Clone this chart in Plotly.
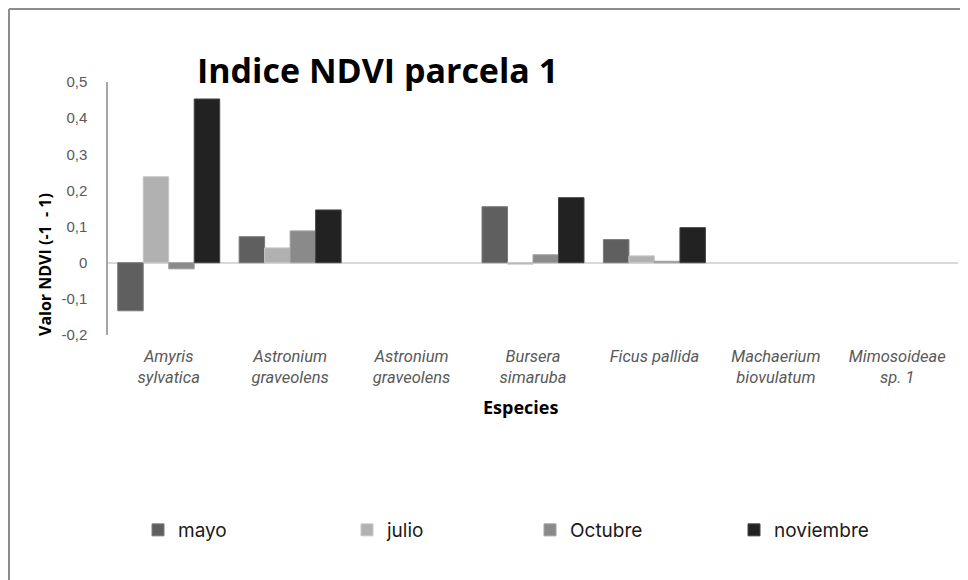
import plotly.graph_objects as go

species = ["Amyris<br>sylvatica", "Astronium<br>graveolens", "Astronium<br>graveolens",
           "Bursera<br>simaruba", "Ficus pallida<br> ", "Machaerium<br>biovulatum", "Mimosoideae<br>sp. 1"]
positions = [0, 1, 2, 3, 4, 5, 6]

mayo = [-0.133, 0.072, None, 0.155, 0.064, None, None]
julio = [0.238, 0.041, None, -0.004, 0.019, None, None]
octubre = [-0.017, 0.088, None, 0.022, 0.004, None, None]
noviembre = [0.453, 0.146, None, 0.180, 0.097, None, None]

series_names = ["mayo", "julio", "Octubre", "noviembre"]
series_values = [mayo, julio, octubre, noviembre]
colors = ["#5f5f5f", "#b1b1b1", "#8a8a8a", "#222222"]
edge_colors = ["#7a7a7a", "#c8c8c8", "#a2a2a2", "#444444"]

y_tick_vals = [-0.2, -0.1, 0, 0.1, 0.2, 0.3, 0.4, 0.5]
y_tick_text = ["-0,2", "-0,1", "0", "0,1", "0,2", "0,3", "0,4", "0,5"]

# page has an 8px body margin; figure sized so it fits the 968x580 window
OFF = 8
W, H = 960, 572
L, R, T, B = 100, 10, 74, 245
pw, ph = W - L - R, H - T - B


def px(x):  # page pixel x -> paper
    return (x - OFF - L) / pw


def py(y):  # page pixel y -> paper
    return (H - B - (y - OFF)) / ph


legend_page_x = [138, 347, 530, 734]
legend_names = ["legend", "legend2", "legend3", "legend4"]

fig = go.Figure()
for i, (name, vals) in enumerate(zip(series_names, series_values)):
    fig.add_trace(go.Bar(
        x=positions, y=vals, name=name,
        marker=dict(color=colors[i], line=dict(color=edge_colors[i], width=1)),
        legend=legend_names[i],
    ))

layout_legends = {}
for i, ln in enumerate(legend_names):
    layout_legends[ln] = dict(
        x=px(legend_page_x[i]), y=py(530), xanchor="left", yanchor="middle",
        orientation="h", bgcolor="rgba(0,0,0,0)",
        font=dict(family="Inter, Liberation Sans, sans-serif", size=19, color="#1a1a1a"),
        itemwidth=30,
    )

fig.update_layout(
    width=W, height=H,
    margin=dict(l=L, r=R, t=T, b=B),
    paper_bgcolor="white", plot_bgcolor="white",
    separators=",.",
    barmode="group", bargap=0.16, bargroupgap=0,
    showlegend=True,
    title=dict(text="<b>Indice NDVI parcela 1</b>", x=(197 - OFF) / W, xanchor="left", xref="container",
               y=1 - (71 - OFF) / H, yanchor="middle", yref="container",
               font=dict(family="Open Sans, Inter, sans-serif", size=34, color="#000000")),
    xaxis=dict(range=[-0.5, 6.5], tickvals=positions, ticktext=species,
               showline=False, showgrid=False, zeroline=False, ticks="",
               ticklabelstandoff=9,
               tickfont=dict(family="Roboto, Liberation Sans, sans-serif",
                             size=16.5, color="#595959", style="italic")),
    yaxis=dict(range=[-0.2, 0.5], tickvals=y_tick_vals, ticktext=y_tick_text,
               showline=True, linecolor="#a6a6a6", linewidth=1.5,
               showgrid=False, zeroline=True, zerolinecolor="#d9d9d9", zerolinewidth=2,
               ticks="", ticklabelstandoff=16,
               tickfont=dict(family="Liberation Sans, sans-serif", size=15, color="#595959")),
    **layout_legends,
)

fig.add_annotation(text="<b>Valor NDVI (-1  - 1)</b>", textangle=-90,
                   xref="paper", yref="paper", x=px(45), y=py(265),
                   xanchor="center", yanchor="middle", showarrow=False,
                   font=dict(family="Open Sans, Liberation Sans, sans-serif", size=16, color="#000000"))
fig.add_annotation(text="<b>Especies</b>",
                   xref="paper", yref="paper", x=px(520), y=py(407),
                   xanchor="center", yanchor="middle", showarrow=False,
                   font=dict(family="Open Sans, Liberation Sans, sans-serif", size=18, color="#000000"))

# outer chart border (left and top edges visible)
fig.add_shape(type="line", xref="paper", yref="paper", x0=px(9), x1=px(9), y0=py(9), y1=py(600),
              line=dict(color="#8c8c8c", width=2))
fig.add_shape(type="line", xref="paper", yref="paper", x0=px(9), x1=px(1000), y0=py(9), y1=py(9),
              line=dict(color="#8c8c8c", width=2))

fig.write_html("out.html")
